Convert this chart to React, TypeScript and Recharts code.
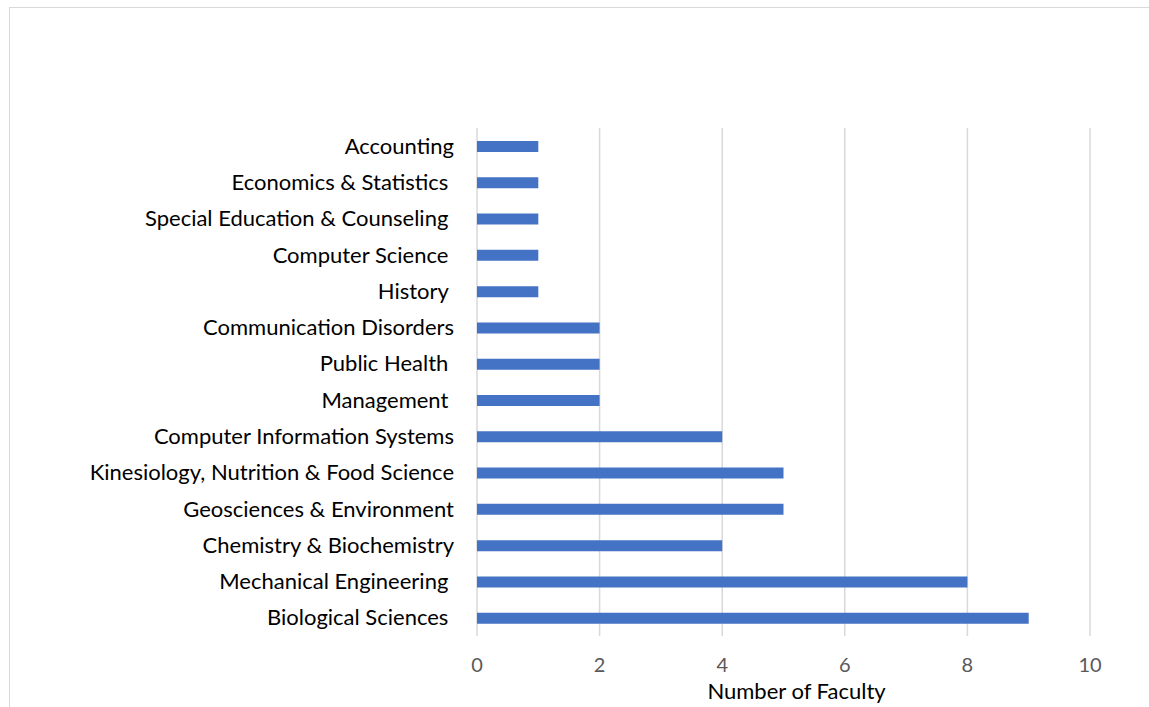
import React from 'react';
import { BarChart, Bar, XAxis, YAxis, CartesianGrid, Label } from 'recharts';

const departments = [
  'Accounting',
  'Economics & Statistics ',
  'Special Education & Counseling ',
  'Computer Science ',
  'History ',
  'Communication Disorders',
  'Public Health ',
  'Management ',
  'Computer Information Systems',
  'Kinesiology, Nutrition & Food Science',
  'Geosciences & Environment',
  'Chemistry & Biochemistry',
  'Mechanical Engineering ',
  'Biological Sciences ',
];
const facultyCounts = [1, 1, 1, 1, 1, 2, 2, 2, 4, 5, 5, 4, 8, 9];
const xTicks = [0, 2, 4, 6, 8, 10];

const data = departments.map((name, i) => ({ name, count: facultyCounts[i] }));

const FONT = 'Lato, "Open Sans", sans-serif';

const DeptTick = (props: any) => {
  const { x, y, payload } = props;
  return (
    <text x={x} y={y - 1} textAnchor="end" dominantBaseline="central" fontFamily={FONT} fontSize={22} fill="#000" style={{ whiteSpace: 'pre' }}>
      {payload.value}
    </text>
  );
};

export default function App() {
  return (
    <div style={{ position: 'absolute', left: 0, top: 0, width: 1149, height: 707, background: '#fff', overflow: 'hidden' }}>
      <div style={{ position: 'absolute', left: 9, top: 7, width: 1200, height: 800, border: '1px solid #d9d9d9', boxSizing: 'border-box' }} />
      <div style={{ position: 'absolute', left: 0, top: 0 }}>
        <BarChart width={1149} height={707} data={data} layout="vertical" margin={{ top: 128, right: 59, bottom: 11, left: 0 }}>
          <CartesianGrid horizontal={false} stroke="#d9d9d9" strokeWidth={1.5} />
          <XAxis
            type="number"
            domain={[0, 10]}
            ticks={xTicks}
            axisLine={false}
            tickLine={false}
            tickSize={0}
            tickMargin={22}
            height={60}
            tick={{ fill: '#595959', fontSize: 20, fontFamily: FONT }}
          >
            <Label value="Number of Faculty" position="insideBottom" offset={-3} dx={13} fill="#000" fontSize={22} fontFamily={FONT} />
          </XAxis>
          <YAxis type="category" dataKey="name" width={477} axisLine={false} tickLine={false} tickSize={0} tickMargin={23} interval={0} tick={<DeptTick />} />
          <Bar dataKey="count" fill="#4472C4" barSize={11} isAnimationActive={false} />
        </BarChart>
      </div>
    </div>
  );
}
